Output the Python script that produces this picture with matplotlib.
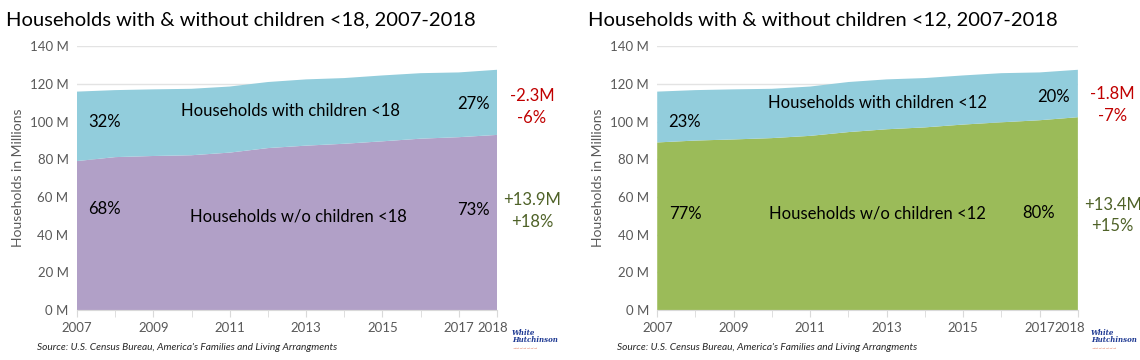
import matplotlib.pyplot as plt
import matplotlib.transforms as mtransforms

plt.rcParams['font.family'] = ['Lato', 'DejaVu Sans']

years = list(range(2007, 2019))
year_ticks = [2007, 2009, 2011, 2013, 2015, 2017, 2018]

# millions of households
without_u18 = [79.1, 81.2, 81.8, 82.2, 83.6, 86.0, 87.3, 88.3, 89.6, 91.0, 91.8, 93.0]
with_u18 = [36.9, 35.6, 35.4, 35.3, 35.1, 35.1, 35.2, 34.9, 35.0, 34.8, 34.4, 34.6]
without_u12 = [89.0, 90.0, 90.6, 91.3, 92.5, 94.5, 96.0, 97.0, 98.5, 99.7, 100.8, 102.4]
with_u12 = [27.0, 26.8, 26.6, 26.2, 26.2, 26.6, 26.5, 26.2, 26.1, 26.1, 25.4, 25.2]

panels = [
    dict(title='Households with & without children <18, 2007-2018',
         without=without_u18, with_=with_u18, base_color='#b1a0c7',
         with_label='Households with children <18',
         without_label='Households w/o children <18',
         pct_with=('32%', '27%'), pct_without=('68%', '73%'),
         chg_with=('-2.3M', '-6%'), chg_without=('+13.9M', '+18%'),
         rect=[0.0675, 0.139, 0.3685, 0.732]),
    dict(title='Households with & without children <12, 2007-2018',
         without=without_u12, with_=with_u12, base_color='#9bbb59',
         with_label='Households with children <12',
         without_label='Households w/o children <12',
         pct_with=('23%', '20%'), pct_without=('77%', '80%'),
         chg_with=('-1.8M', '-7%'), chg_without=('+13.4M', '+15%'),
         rect=[0.5765, 0.139, 0.369, 0.732]),
]

fig = plt.figure(figsize=(11.4, 3.6), dpi=100)

for i, p in enumerate(panels):
    ax = fig.add_axes(p['rect'])
    ax.stackplot(years, p['without'], p['with_'],
                 colors=[p['base_color'], '#92cddc'], linewidth=0)
    ax.set_xlim(2007, 2018)
    ax.set_ylim(0, 140)
    ax.set_yticks(range(0, 141, 20))
    ax.set_yticklabels([f'{v} M' for v in range(0, 141, 20)])
    ax.set_xticks(years, minor=True)
    ax.set_xticks(year_ticks)
    ax.set_xticklabels([str(y) for y in year_ticks])
    ax.grid(axis='y', color='#e3e3e3', linewidth=1)
    ax.set_axisbelow(True)
    for s in ['top', 'right', 'left']:
        ax.spines[s].set_visible(False)
    ax.spines['bottom'].set_color('#d9d9d9')
    ax.tick_params(axis='y', length=0, labelsize=9.5, labelcolor='#595959', pad=6)
    ax.tick_params(axis='x', which='both', length=5, color='#d9d9d9',
                   labelsize=9.5, labelcolor='#595959', pad=4)
    ax.set_ylabel('Households in Millions', fontsize=10, color='#595959', labelpad=4)
    # nudge the last year label left, as in the original
    last = ax.get_xticklabels()[-1]
    shift = -3 if i == 0 else -6
    last.set_transform(last.get_transform() +
                       mtransforms.ScaledTranslation(shift / 72, 0, fig.dpi_scale_trans))

    fig.text(0.005 + i * 0.511, 0.945, p['title'], fontsize=14.5, color='#000000',
             va='center', ha='left')

    # text labels inside the areas
    ax.text(2007.3, 100, p['pct_with'][0], fontsize=12, va='center', ha='left')
    ax.text(2017.8, 109.5 if i == 0 else 113, p['pct_with'][1], fontsize=12,
            va='center', ha='right')
    ax.text(2007.3, 53.5 if i == 0 else 51, p['pct_without'][0], fontsize=12,
            va='center', ha='left')
    ax.text(2017.8 if i == 0 else 2017.4, 53 if i == 0 else 51.5,
            p['pct_without'][1], fontsize=12, va='center', ha='right')
    ax.text(2012.6 if i == 0 else 2012.75, 105.5 if i == 0 else 110,
            p['with_label'], fontsize=12, va='center', ha='center')
    ax.text(2012.8 if i == 0 else 2012.75, 49.5 if i == 0 else 51.5,
            p['without_label'], fontsize=12, va='center', ha='center')

    # change annotations to the right of the plot
    ax.text(1.083, 0.813 if i == 0 else 0.82, p['chg_with'][0], transform=ax.transAxes,
            fontsize=12, color='#c00000', ha='center', va='center')
    ax.text(1.083, 0.73 if i == 0 else 0.737, p['chg_with'][1], transform=ax.transAxes,
            fontsize=12, color='#c00000', ha='center', va='center')
    ax.text(1.083, 0.418 if i == 0 else 0.4, p['chg_without'][0], transform=ax.transAxes,
            fontsize=12, color='#4f6228', ha='center', va='center')
    ax.text(1.083, 0.335 if i == 0 else 0.317, p['chg_without'][1], transform=ax.transAxes,
            fontsize=12, color='#4f6228', ha='center', va='center')

    # source and logo
    fig.text(p['rect'][0] - 0.035, 0.035,
             "Source: U.S. Census Bureau, America's Families and Living Arrangments",
             fontsize=7.3, style='italic', color='#262626', va='center', ha='left')
    logo_x = 0.449 if i == 0 else 0.957
    fig.text(logo_x, 0.066, 'White\nHutchinson',
             fontsize=5, style='italic', weight='bold', color='#1f3a93',
             va='center', ha='left', linespacing=0.8, family='DejaVu Serif')
    fig.text(logo_x + 0.001, 0.03, '~~~~~~~',
             fontsize=4.5, color='#e07050', va='center', ha='left')

fig.savefig('out.png', dpi=100)
